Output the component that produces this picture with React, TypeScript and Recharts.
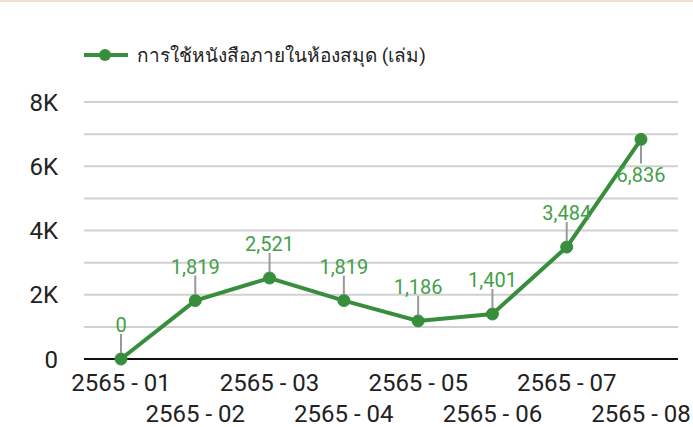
import { LineChart, Line, XAxis, YAxis, CartesianGrid, Legend, LabelList } from 'recharts';

// เดือน (พ.ศ.)
const MONTHS = ['2565 - 01', '2565 - 02', '2565 - 03', '2565 - 04', '2565 - 05', '2565 - 06', '2565 - 07', '2565 - 08'];
// จำนวนการใช้หนังสือ (เล่ม)
const USAGE = [0, 1819, 2521, 1819, 1186, 1401, 3484, 6836];
const Y_TICKS = [0, 2000, 4000, 6000, 8000];
const GRID_TICKS = [0, 1000, 2000, 3000, 4000, 5000, 6000, 7000, 8000];
const SERIES_NAME = 'การใช้หนังสือภายในห้องสมุด (เล่ม)';

const LINE_COLOR = '#388e3c';
const LABEL_COLOR = '#43a047';

const data = MONTHS.map((m, i) => ({ month: m, value: USAGE[i] }));

const fmtK = (v: number) => (v === 0 ? '0' : `${v / 1000}K`);

// ป้ายแกน X สลับสองแถว
const XTick = (props: any) => {
  const { x, y, payload, index } = props;
  return (
    <text x={x} y={y + (index % 2 ? 61 : 30)} textAnchor="middle" fill="#222" fontSize={24} fontFamily="Roboto, sans-serif">
      {payload.value}
    </text>
  );
};

// ป้ายค่าพร้อมเส้นนำ
const ValueLabel = (props: any) => {
  const { x, y, value, index } = props;
  const below = index === USAGE.length - 1;
  const text = Number(value).toLocaleString('en-US');
  return (
    <g>
      {below ? (
        <line x1={x} x2={x} y1={y + 6} y2={y + 24} stroke="#999" strokeWidth={2} />
      ) : (
        <line x1={x} x2={x} y1={y - 6} y2={y - 25} stroke="#999" strokeWidth={2} />
      )}
      <text x={x} y={below ? y + 43 : y - 27} textAnchor="middle" fill={LABEL_COLOR} fontSize={20} fontFamily="Roboto, sans-serif">
        {text}
      </text>
    </g>
  );
};

const LegendContent = () => (
  <div style={{ display: 'flex', alignItems: 'center', paddingLeft: 84 }}>
    <svg width={44} height={14}>
      <line x1={0} x2={44} y1={7} y2={7} stroke={LINE_COLOR} strokeWidth={4} />
      <circle cx={21} cy={7} r={6} fill={LINE_COLOR} />
    </svg>
    <span style={{ marginLeft: 9, fontSize: 19, color: '#222', fontFamily: 'Roboto, sans-serif' }}>{SERIES_NAME}</span>
  </div>
);

export default function App() {
  return (
    <div style={{ position: 'absolute', left: 0, top: 0, width: 693, height: 427, background: '#fff' }}>
      <div style={{ position: 'absolute', left: 0, top: 0, width: 693, height: 2, background: '#f2ddd0' }} />
      <LineChart width={693} height={427} data={data} margin={{ top: 64, right: 15, bottom: 0, left: 0 }}>
        <CartesianGrid vertical={false} stroke="#d0d0d0" strokeWidth={2} horizontalValues={GRID_TICKS} />
        <XAxis
          dataKey="month"
          interval={0}
          padding={{ left: 37, right: 37 }}
          tickLine={false}
          tickSize={0}
          tick={<XTick />}
          axisLine={{ stroke: '#111', strokeWidth: 2 }}
          height={68}
        />
        <YAxis
          domain={[0, 8000]}
          ticks={Y_TICKS}
          tickFormatter={fmtK}
          axisLine={false}
          tickLine={false}
          tickSize={0}
          tickMargin={26}
          width={84}
          tick={{ fill: '#222', fontSize: 24, fontFamily: 'Roboto, sans-serif' }}
        />
        <Legend verticalAlign="top" height={38} wrapperStyle={{ top: 40 }} content={<LegendContent />} />
        <Line
          type="linear"
          dataKey="value"
          name={SERIES_NAME}
          stroke={LINE_COLOR}
          strokeWidth={4}
          dot={{ r: 6, fill: LINE_COLOR, stroke: LINE_COLOR, strokeWidth: 1 }}
          isAnimationActive={false}
        >
          <LabelList dataKey="value" content={<ValueLabel />} />
        </Line>
      </LineChart>
    </div>
  );
}
